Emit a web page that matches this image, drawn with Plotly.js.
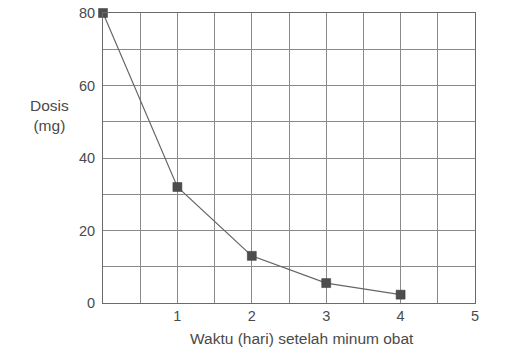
<!DOCTYPE html>
<html>
<head>
<meta charset="utf-8">
<script src="https://cdn.plot.ly/plotly-3.0.1.min.js"></script>
<style>html,body{margin:0;padding:0;background:#fff;}#chart{width:520px;height:355px;}</style>
</head>
<body>
<div id="chart"></div>
<script>
var days = [0, 1, 2, 3, 4];
var dose = [80, 32, 13, 5.5, 2.3];
var xTickVals = [0, 0.5, 1, 1.5, 2, 2.5, 3, 3.5, 4, 4.5, 5];
var xTickText = ['', '', '1', '', '2', '', '3', '', '4', '', '5'];
var yTickVals = [0, 10, 20, 30, 40, 50, 60, 70, 80];
var yTickText = ['0', '', '20', '', '40', '', '60', '', '80'];
var xTitle = 'Waktu (hari) setelah minum obat';
var yTitle = 'Dosis<br>(mg)';

var tickFont = {family: 'Liberation Sans, Arial, sans-serif', size: 14.5, color: '#4a4a4a'};
var titleFont = {family: 'Liberation Sans, Arial, sans-serif', size: 15.5, color: '#4a4a4a'};

var trace = {
  x: days, y: dose, type: 'scatter', mode: 'lines+markers',
  line: {color: '#666666', width: 1.2},
  marker: {symbol: 'square', size: 9, color: '#4d4d4d', line: {color: '#3a3a3a', width: 0.5}},
  hoverinfo: 'skip', showlegend: false, cliponaxis: false
};

var layout = {
  width: 520, height: 355,
  margin: {l: 103, r: 45, t: 13, b: 52},
  paper_bgcolor: '#fff', plot_bgcolor: '#fff',
  font: tickFont,
  xaxis: {
    range: [0, 5], tickvals: xTickVals, ticktext: xTickText,
    showgrid: true, gridcolor: '#8a8a8a', gridwidth: 1,
    showline: true, linecolor: '#6a6a6a', linewidth: 1, mirror: true,
    zeroline: false, ticks: '',
    tickfont: tickFont, fixedrange: true
  },
  yaxis: {
    range: [0, 80], tickvals: yTickVals, ticktext: yTickText,
    showgrid: true, gridcolor: '#8a8a8a', gridwidth: 1,
    showline: true, linecolor: '#6a6a6a', linewidth: 1, mirror: true,
    zeroline: false, ticks: 'outside', ticklen: 4, tickcolor: 'rgba(0,0,0,0)',
    tickfont: tickFont, fixedrange: true
  },
  annotations: [
    {text: xTitle, xref: 'paper', yref: 'paper', x: 0.535, y: -0.121, xanchor: 'center', yanchor: 'middle', showarrow: false, font: titleFont},
    {text: yTitle, xref: 'paper', yref: 'paper', x: -0.145, y: 0.648, xanchor: 'center', yanchor: 'middle', showarrow: false, font: titleFont, align: 'center'}
  ]
};

Plotly.newPlot('chart', [trace], layout, {displayModeBar: false, staticPlot: true});
</script>
</body>
</html>
